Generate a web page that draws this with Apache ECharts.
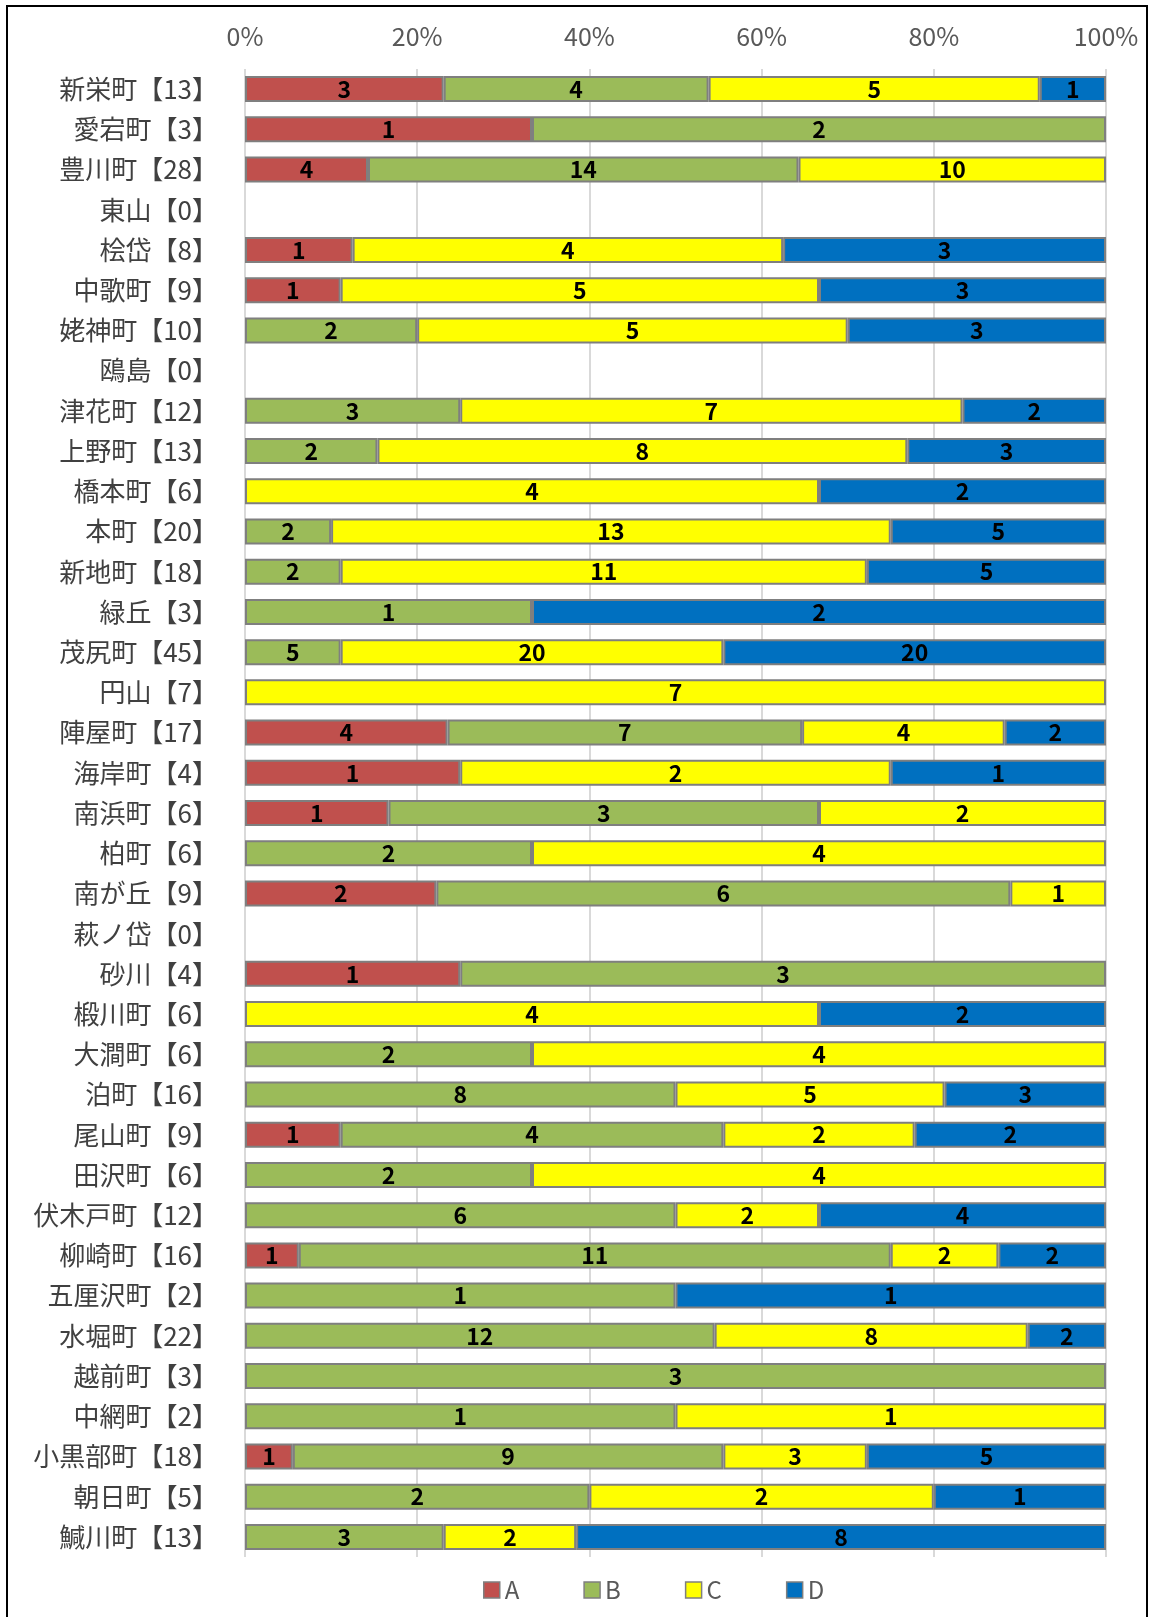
<!DOCTYPE html>
<html>
<head>
<meta charset="utf-8">
<script src="https://cdn.jsdelivr.net/npm/echarts@6/dist/echarts.min.js"></script>
<style>
  html, body { margin: 0; padding: 0; background: #fff; }
  #chart { width: 1152px; height: 1617px; }
</style>
</head>
<body>
<div id="chart"></div>
<script>
const towns = [
  '新栄町', '愛宕町', '豊川町', '東山', '桧岱', '中歌町', '姥神町', '鴎島', '津花町', '上野町',
  '橋本町', '本町', '新地町', '緑丘', '茂尻町', '円山', '陣屋町', '海岸町', '南浜町', '柏町',
  '南が丘', '萩ノ岱', '砂川', '椴川町', '大澗町', '泊町', '尾山町', '田沢町', '伏木戸町', '柳崎町',
  '五厘沢町', '水堀町', '越前町', '中網町', '小黒部町', '朝日町', '鰔川町'
]
const countA = [3, 1, 4, 0, 1, 1, 0, 0, 0, 0, 0, 0, 0, 0, 0, 0, 4, 1, 1, 0, 2, 0, 1, 0, 0, 0, 1, 0, 0, 1, 0, 0, 0, 0, 1, 0, 0]
const countB = [4, 2, 14, 0, 0, 0, 2, 0, 3, 2, 0, 2, 2, 1, 5, 0, 7, 0, 3, 2, 6, 0, 3, 0, 2, 8, 4, 2, 6, 11, 1, 12, 3, 1, 9, 2, 3]
const countC = [5, 0, 10, 0, 4, 5, 5, 0, 7, 8, 4, 13, 11, 0, 20, 7, 4, 2, 2, 4, 1, 0, 0, 4, 4, 5, 2, 4, 2, 2, 0, 8, 0, 1, 3, 2, 2]
const countD = [1, 0, 0, 0, 3, 3, 3, 0, 2, 3, 2, 5, 5, 2, 20, 0, 2, 1, 0, 0, 0, 0, 0, 2, 0, 3, 2, 0, 4, 2, 1, 2, 0, 0, 5, 1, 8]
const percentTicks = [0, 20, 40, 60, 80, 100]

const seriesDefs = [
  { name: 'A', counts: countA, color: '#C0504D' },
  { name: 'B', counts: countB, color: '#9BBB59' },
  { name: 'C', counts: countC, color: '#FFFF00' },
  { name: 'D', counts: countD, color: '#0070C0' }
]

const totals = towns.map((_, i) => seriesDefs.reduce((s, d) => s + d.counts[i], 0))
const categoryLabels = towns.map((t, i) => t + '【' + totals[i] + '】')

const font = '"Noto Sans CJK JP", "Noto Sans", sans-serif'

const chart = echarts.init(document.getElementById('chart'))

chart.setOption({
  animation: false,
  backgroundColor: '#fff',
  graphic: [{
    type: 'rect',
    shape: { x: 7, y: 6, width: 1140, height: 1640 },
    style: { fill: 'none', stroke: '#000', lineWidth: 2 }
  }],
  grid: { left: 245, right: 46, top: 69, bottom: 60 },
  legend: {
    bottom: 10,
    left: 478,
    itemWidth: 16,
    itemHeight: 16,
    itemGap: 64,
    icon: 'rect',
    textStyle: { fontFamily: font, fontSize: 24, color: '#595959' },
    itemStyle: { borderColor: '#7f7f7f', borderWidth: 1.5 },
    data: seriesDefs.map(d => d.name)
  },
  xAxis: {
    type: 'value',
    position: 'top',
    min: percentTicks[0],
    max: percentTicks[percentTicks.length - 1],
    interval: 20,
    axisLine: { show: false },
    axisTick: { show: false },
    axisLabel: { formatter: '{value}%', fontFamily: font, fontSize: 25, color: '#595959', margin: 20 },
    splitLine: { lineStyle: { color: '#d9d9d9', width: 2 } }
  },
  yAxis: {
    type: 'category',
    inverse: true,
    data: categoryLabels,
    axisLine: { show: false },
    axisTick: { show: false },
    axisLabel: { fontFamily: font, fontSize: 26, color: '#404040', margin: 27 }
  },
  series: seriesDefs.map(d => ({
    name: d.name,
    type: 'bar',
    stack: 'total',
    barWidth: 26,
    itemStyle: { color: d.color, borderColor: '#7f7f7f', borderWidth: 2 },
    label: {
      show: true,
      position: 'inside',
      fontFamily: font,
      fontWeight: 'bold',
      fontSize: 23,
      color: '#000',
      formatter: p => d.counts[p.dataIndex]
    },
    data: d.counts.map((c, i) => (c > 0 && totals[i] > 0 ? c / totals[i] * 100 : null))
  }))
})
</script>
</body>
</html>
